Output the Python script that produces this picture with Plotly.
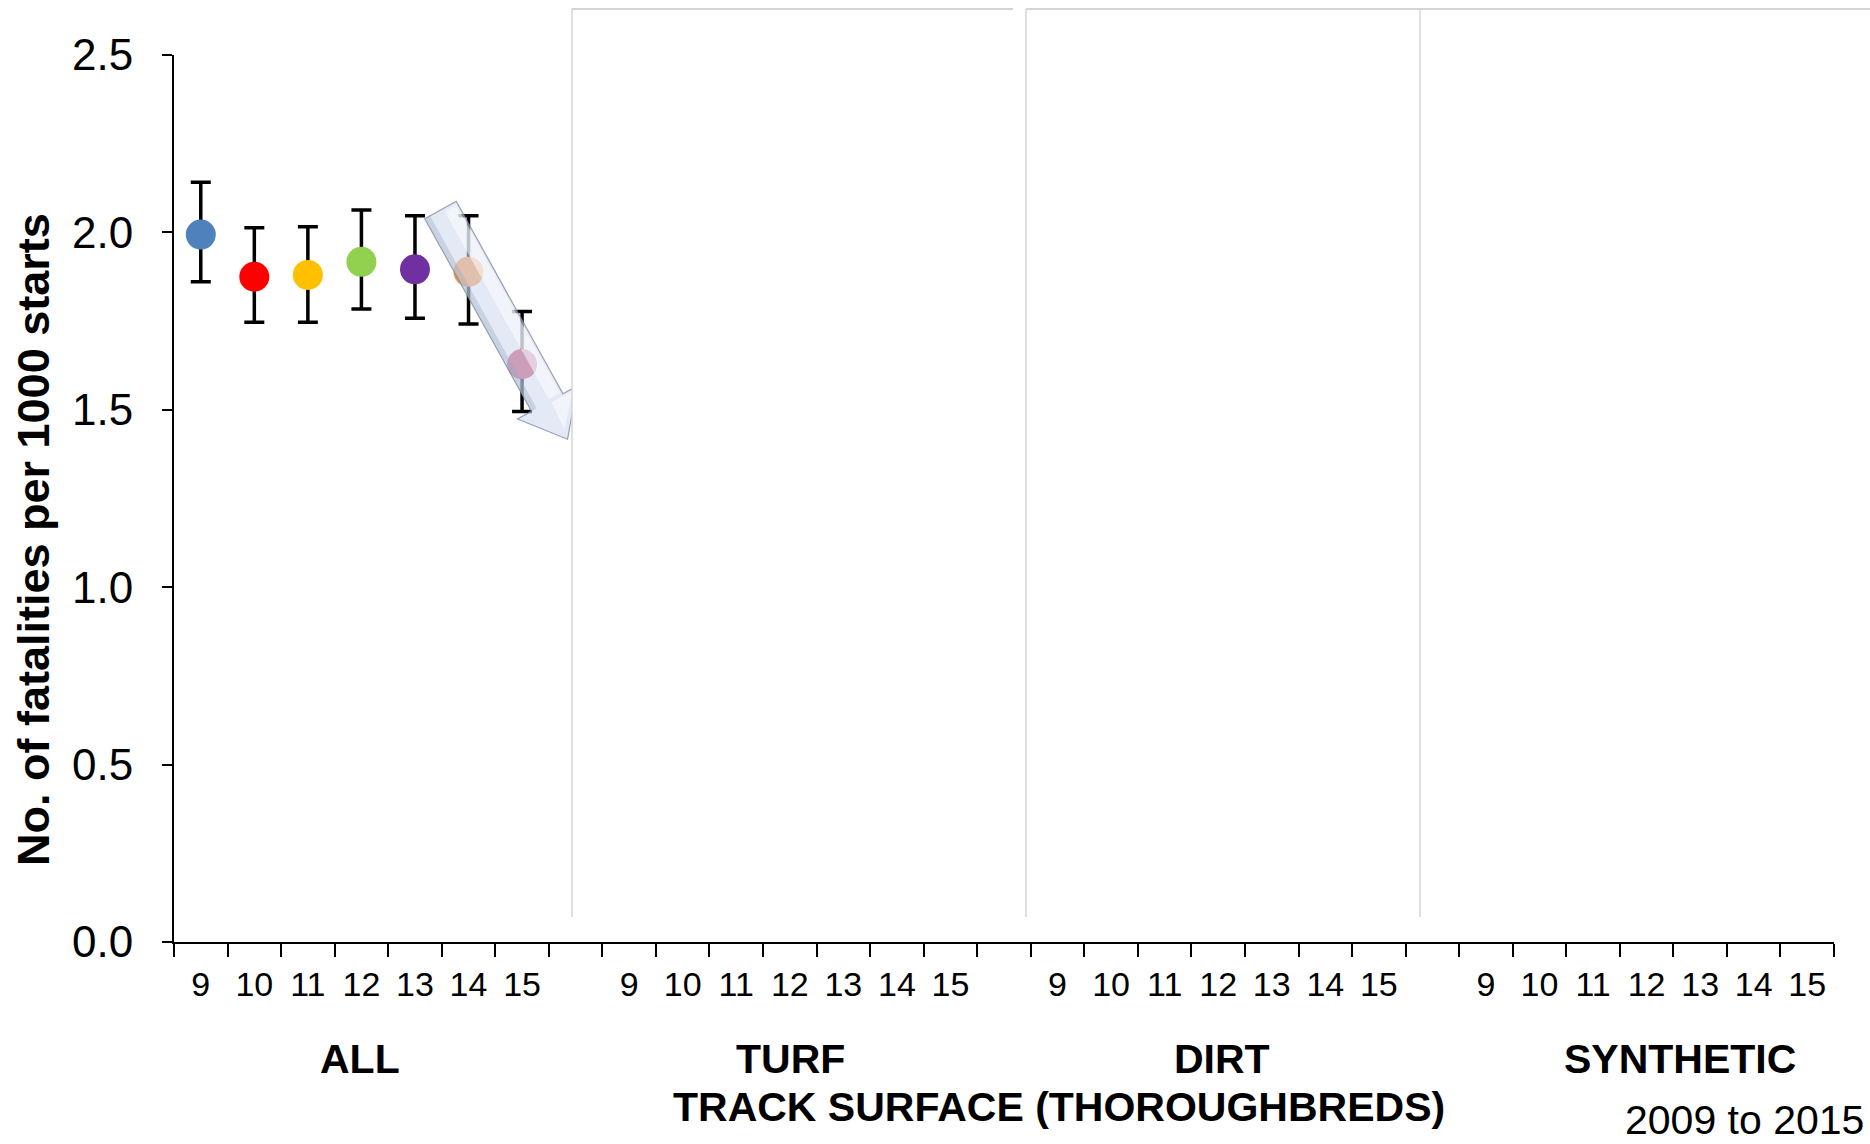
import plotly.graph_objects as go

# ---- data ----
years = ["9", "10", "11", "12", "13", "14", "15"]
groups = ["ALL", "TURF", "DIRT", "SYNTHETIC"]
all_values = [1.994, 1.875, 1.880, 1.917, 1.896, 1.889, 1.629]
all_upper = [2.141, 2.013, 2.016, 2.063, 2.047, 2.047, 1.777]
all_lower = [1.861, 1.747, 1.747, 1.784, 1.758, 1.742, 1.495]
point_colors = ["#4F81BD", "#FF0000", "#FFC000", "#92D050", "#7030A0", "#F79646", "#C8416A"]
y_ticks = [0.0, 0.5, 1.0, 1.5, 2.0, 2.5]

# ---- layout constants (pixels) ----
W, H = 1870, 1144
L, R, T, B = 174, 36, 55, 202
PW, PH = W - L - R, H - T - B
FONT = "Liberation Sans, Arial, sans-serif"

n_years = len(years)
slots_per_group = n_years + 1
n_slots = slots_per_group * len(groups) - 1

x_all = [i + 0.5 for i in range(n_years)]
err_plus = [u - v for u, v in zip(all_upper, all_values)]
err_minus = [v - l for v, l in zip(all_values, all_lower)]

tickvals, ticktext = [], []
for g in range(len(groups)):
    for i, yr in enumerate(years):
        tickvals.append(g * slots_per_group + i + 0.5)
        ticktext.append(yr)

fig = go.Figure()
fig.add_trace(go.Scatter(
    x=x_all, y=all_values, mode="markers",
    marker=dict(size=30, color=point_colors, line=dict(width=0)),
    error_y=dict(type="data", symmetric=False, array=err_plus, arrayminus=err_minus,
                 color="black", thickness=3.5, width=10),
    showlegend=False, hoverinfo="skip",
))


def px2paper(px, py):
    return (px - L) / PW, (H - B - py) / PH


# arrow overlay (decoration) in pixel space
C0 = (440.5, 210.0)
u = (0.485, 0.875)
nv = (0.875, -0.485)
w_shaft, w_head, d_head, d_tip = 18.0, 34.0, 220.0, 262.0


def pt(d, s):
    return (C0[0] + d * u[0] + s * nv[0], C0[1] + d * u[1] + s * nv[1])


def poly_path(points):
    return "M " + " L ".join("%.5f,%.5f" % px2paper(*p) for p in points) + " Z"


arrow = [pt(0, -w_shaft), pt(0, w_shaft), pt(d_head, w_shaft), pt(d_head, w_head),
         pt(d_tip, 0), pt(d_head, -w_head), pt(d_head, -w_shaft)]
left_shade = [pt(0, -w_shaft), pt(0, -w_shaft + 6), pt(d_head, -w_shaft + 6), pt(d_head, -w_shaft)]
highlight = [pt(3, 3), pt(3, w_shaft - 2), pt(d_head - 2, w_shaft - 2), pt(d_head - 2, 3)]
head_hl = [pt(d_head + 2, 4), pt(d_head + 2, w_head - 6), pt(d_tip - 10, 2)]

shapes = [
    dict(type="path", path=poly_path(arrow), xref="paper", yref="paper", layer="above",
         fillcolor="rgba(208,220,240,0.6)", line=dict(color="rgba(120,130,150,0.75)", width=1.2)),
    dict(type="path", path=poly_path(left_shade), xref="paper", yref="paper", layer="above",
         fillcolor="rgba(150,165,190,0.35)", line=dict(width=0)),
    dict(type="path", path=poly_path(highlight), xref="paper", yref="paper", layer="above",
         fillcolor="rgba(255,255,255,0.5)", line=dict(width=0)),
    dict(type="path", path=poly_path(head_hl), xref="paper", yref="paper", layer="above",
         fillcolor="rgba(255,255,255,0.5)", line=dict(width=0)),
]

# white cover panels with light grey top/left borders
box_top, box_bottom = 9, 917
boxes = [(572, 1040, 1013), (1026, 1440, 1420), (1420, 1880, 1880)]
for x0, x1, xt in boxes:
    px0, py1 = px2paper(x0, box_top)
    px1, py0 = px2paper(x1, box_bottom)
    shapes.append(dict(type="rect", xref="paper", yref="paper", layer="above",
                       x0=px0, x1=px1, y0=py0, y1=py1, fillcolor="white", line=dict(width=0)))
for x0, x1, xt in boxes:
    px0, py1 = px2paper(x0, box_top)
    pxt, py0 = px2paper(xt, box_bottom)
    shapes.append(dict(type="line", xref="paper", yref="paper", layer="above",
                       x0=px0, x1=px0, y0=py0, y1=py1, line=dict(color="#D4D4D4", width=1.5)))
    shapes.append(dict(type="line", xref="paper", yref="paper", layer="above",
                       x0=px0, x1=pxt, y0=py1, y1=py1, line=dict(color="#D4D4D4", width=2)))

annotations = []
group_centers = [3.47, 11.52, 19.57, 28.12]
for gname, gx in zip(groups, group_centers):
    annotations.append(dict(x=gx, xref="x", y=px2paper(0, 1059)[1], yref="paper",
                            text="<b>%s</b>" % gname, showarrow=False,
                            font=dict(family=FONT, size=41, color="black"),
                            xanchor="center", yanchor="middle"))
annotations.append(dict(x=px2paper(1059, 0)[0], xref="paper", y=px2paper(0, 1107)[1], yref="paper",
                        text="<b>TRACK SURFACE (THOROUGHBREDS)</b>", showarrow=False,
                        font=dict(family=FONT, size=41, color="black"),
                        xanchor="center", yanchor="middle"))
annotations.append(dict(x=px2paper(1865, 0)[0], xref="paper", y=px2paper(0, 1144)[1], yref="paper",
                        text="2009 to 2015", showarrow=False,
                        font=dict(family=FONT, size=41, color="black"),
                        xanchor="right", yanchor="bottom", borderpad=0))
annotations.append(dict(x=px2paper(33, 0)[0], xref="paper", y=px2paper(0, 540)[1], yref="paper",
                        text="<b>No. of fatalities per 1000 starts</b>", showarrow=False,
                        textangle=-90, font=dict(family=FONT, size=45, color="black"),
                        xanchor="center", yanchor="middle"))

fig.update_layout(
    width=W, height=H,
    margin=dict(l=L, r=R, t=T, b=B, pad=0),
    paper_bgcolor="white", plot_bgcolor="white",
    font=dict(family=FONT, color="black"),
    shapes=shapes, annotations=annotations,
    xaxis=dict(
        range=[0, n_slots], showgrid=False, zeroline=False,
        showline=True, linecolor="black", linewidth=2,
        tickmode="array", tickvals=tickvals, ticktext=ticktext, ticks="",
        tickfont=dict(family=FONT, size=34, color="black"),
        ticklabelstandoff=11,
        minor=dict(tickmode="linear", tick0=0, dtick=1, ticks="outside",
                   ticklen=13, tickwidth=2, tickcolor="black", showgrid=False),
    ),
    yaxis=dict(
        range=[0, 2.5], showgrid=False, zeroline=False,
        showline=True, linecolor="black", linewidth=2,
        tickmode="array", tickvals=y_ticks, ticktext=["%.1f" % v for v in y_ticks],
        ticks="outside", ticklen=10, tickwidth=2, tickcolor="black",
        tickfont=dict(family=FONT, size=44, color="black"),
        ticklabelstandoff=20,
    ),
)

fig.write_html("out.html", config={"displayModeBar": False},
               post_script="document.body.style.margin='0';")
